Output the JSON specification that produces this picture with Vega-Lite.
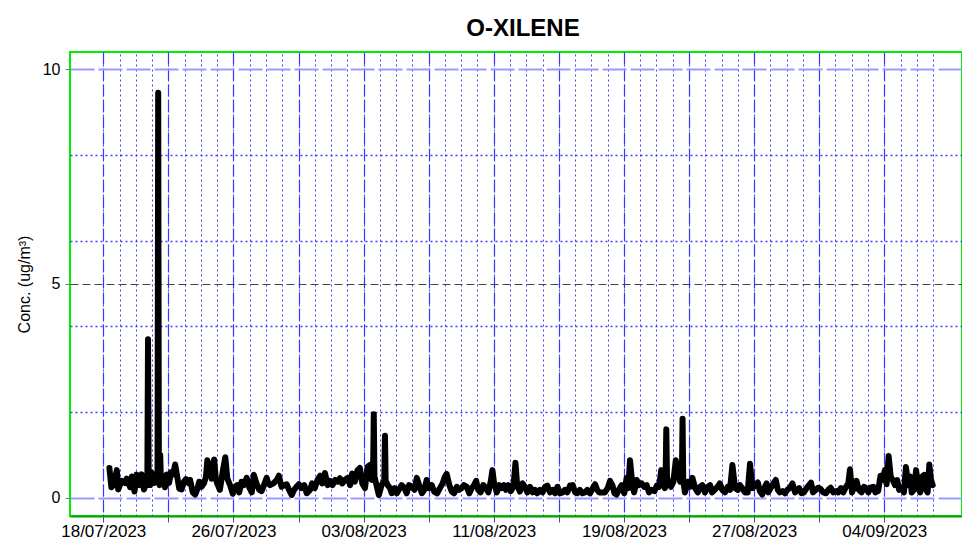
{
"$schema": "https://vega.github.io/schema/vega-lite/v6.json",
"width": 892, "height": 464,
"autosize": {"type": "none"},
"padding": {"left": 70, "top": 52, "right": 0, "bottom": 25},
"background": "white",
"title": {"text": "O-XILENE", "font": "Liberation Sans", "fontSize": 24, "fontWeight": "bold", "color": "black", "anchor": "middle", "frame": "group", "baseline": "alphabetic", "offset": 16, "dx": 7, "dy": 24},
"config": {"view": {"stroke": "#00ee00", "strokeWidth": 2}, "font": "Liberation Sans", "axis": {"minExtent": 0}},
"data": {"values": [
{"t":"2023-07-18T09:00","v":0.7},{"t":"2023-07-18T12:00","v":0.25},{"t":"2023-07-18T15:00","v":0.3},{"t":"2023-07-18T20:00","v":0.65},{"t":"2023-07-18T22:00","v":0.2},
{"t":"2023-07-19T03:00","v":0.4},{"t":"2023-07-19T08:00","v":0.35},{"t":"2023-07-19T10:30","v":0.45},{"t":"2023-07-19T15:30","v":0.25},{"t":"2023-07-19T18:00","v":0.5},{"t":"2023-07-19T22:00","v":0.15},
{"t":"2023-07-20T01:00","v":0.55},{"t":"2023-07-20T05:00","v":0.3},{"t":"2023-07-20T08:30","v":0.55},{"t":"2023-07-20T12:00","v":0.2},{"t":"2023-07-20T16:00","v":0.38},{"t":"2023-07-20T17:00","v":0.4},{"t":"2023-07-20T18:00","v":3.7},{"t":"2023-07-20T19:00","v":0.3},{"t":"2023-07-20T21:00","v":0.3},{"t":"2023-07-20T23:00","v":0.6},
{"t":"2023-07-21T03:00","v":0.35},{"t":"2023-07-21T06:00","v":0.5},{"t":"2023-07-21T08:00","v":0.5},{"t":"2023-07-21T09:00","v":9.45},{"t":"2023-07-21T10:00","v":0.4},{"t":"2023-07-21T11:00","v":0.3},{"t":"2023-07-21T12:00","v":1.0},{"t":"2023-07-21T13:00","v":0.4},{"t":"2023-07-21T16:30","v":0.5},{"t":"2023-07-21T19:00","v":0.25},{"t":"2023-07-21T21:30","v":0.55},
{"t":"2023-07-22T01:00","v":0.35},{"t":"2023-07-22T04:00","v":0.6},{"t":"2023-07-22T07:00","v":0.55},{"t":"2023-07-22T10:00","v":0.78},{"t":"2023-07-22T13:00","v":0.5},{"t":"2023-07-22T16:00","v":0.22},{"t":"2023-07-22T19:30","v":0.2},{"t":"2023-07-22T23:00","v":0.38},
{"t":"2023-07-23T02:00","v":0.44},{"t":"2023-07-23T05:30","v":0.35},{"t":"2023-07-23T08:00","v":0.42},{"t":"2023-07-23T12:00","v":0.13},{"t":"2023-07-23T15:30","v":0.08},{"t":"2023-07-23T19:00","v":0.22},{"t":"2023-07-23T21:30","v":0.38},
{"t":"2023-07-24T01:00","v":0.26},{"t":"2023-07-24T04:30","v":0.34},{"t":"2023-07-24T07:30","v":0.5},{"t":"2023-07-24T09:30","v":0.88},{"t":"2023-07-24T12:00","v":0.55},{"t":"2023-07-24T14:00","v":0.8},{"t":"2023-07-24T16:00","v":0.45},{"t":"2023-07-24T19:30","v":0.9},{"t":"2023-07-24T22:00","v":0.45},
{"t":"2023-07-25T00:00","v":0.34},{"t":"2023-07-25T04:00","v":0.19},{"t":"2023-07-25T08:00","v":0.6},{"t":"2023-07-25T12:00","v":0.95},{"t":"2023-07-25T15:00","v":0.45},{"t":"2023-07-25T19:00","v":0.3},{"t":"2023-07-25T23:00","v":0.1},
{"t":"2023-07-26T02:30","v":0.26},{"t":"2023-07-26T05:30","v":0.3},{"t":"2023-07-26T08:30","v":0.13},{"t":"2023-07-26T12:00","v":0.38},{"t":"2023-07-26T15:30","v":0.3},{"t":"2023-07-26T19:30","v":0.47},{"t":"2023-07-26T23:30","v":0.24},
{"t":"2023-07-27T03:00","v":0.13},{"t":"2023-07-27T06:00","v":0.54},{"t":"2023-07-27T10:00","v":0.34},{"t":"2023-07-27T14:00","v":0.19},{"t":"2023-07-27T17:30","v":0.16},{"t":"2023-07-27T21:00","v":0.3},
{"t":"2023-07-28T01:00","v":0.47},{"t":"2023-07-28T03:30","v":0.34},{"t":"2023-07-28T06:00","v":0.3},{"t":"2023-07-28T11:00","v":0.34},{"t":"2023-07-28T16:00","v":0.42},{"t":"2023-07-28T19:00","v":0.52},{"t":"2023-07-28T23:00","v":0.26},
{"t":"2023-07-29T03:00","v":0.3},{"t":"2023-07-29T06:30","v":0.32},{"t":"2023-07-29T10:00","v":0.19},{"t":"2023-07-29T14:00","v":0.07},{"t":"2023-07-29T17:30","v":0.19},{"t":"2023-07-29T21:00","v":0.26},
{"t":"2023-07-30T00:30","v":0.32},{"t":"2023-07-30T04:30","v":0.23},{"t":"2023-07-30T08:30","v":0.3},{"t":"2023-07-30T12:00","v":0.11},{"t":"2023-07-30T17:00","v":0.19},{"t":"2023-07-30T20:00","v":0.34},
{"t":"2023-07-31T00:00","v":0.23},{"t":"2023-07-31T04:00","v":0.42},{"t":"2023-07-31T08:00","v":0.52},{"t":"2023-07-31T11:00","v":0.34},{"t":"2023-07-31T15:00","v":0.58},{"t":"2023-07-31T19:00","v":0.3},{"t":"2023-07-31T22:30","v":0.4},
{"t":"2023-08-01T02:00","v":0.3},{"t":"2023-08-01T06:00","v":0.42},{"t":"2023-08-01T10:00","v":0.38},{"t":"2023-08-01T13:00","v":0.46},{"t":"2023-08-01T16:30","v":0.34},{"t":"2023-08-01T20:30","v":0.42},
{"t":"2023-08-02T00:30","v":0.47},{"t":"2023-08-02T04:00","v":0.3},{"t":"2023-08-02T07:00","v":0.57},{"t":"2023-08-02T11:00","v":0.38},{"t":"2023-08-02T15:00","v":0.65},{"t":"2023-08-02T18:30","v":0.7},{"t":"2023-08-02T22:00","v":0.34},
{"t":"2023-08-03T02:00","v":0.23},{"t":"2023-08-03T06:00","v":0.73},{"t":"2023-08-03T09:30","v":0.77},{"t":"2023-08-03T12:00","v":0.42},{"t":"2023-08-03T14:00","v":0.6},{"t":"2023-08-03T15:00","v":1.95},{"t":"2023-08-03T16:00","v":0.5},{"t":"2023-08-03T19:00","v":0.3},{"t":"2023-08-03T22:30","v":0.07},
{"t":"2023-08-04T02:30","v":0.3},{"t":"2023-08-04T06:30","v":0.4},{"t":"2023-08-04T07:30","v":1.45},{"t":"2023-08-04T08:30","v":0.4},{"t":"2023-08-04T11:30","v":0.3},{"t":"2023-08-04T15:00","v":0.23},{"t":"2023-08-04T17:30","v":0.11},{"t":"2023-08-04T21:30","v":0.23},
{"t":"2023-08-05T01:00","v":0.11},{"t":"2023-08-05T04:00","v":0.19},{"t":"2023-08-05T08:00","v":0.3},{"t":"2023-08-05T12:00","v":0.24},{"t":"2023-08-05T15:30","v":0.11},{"t":"2023-08-05T19:00","v":0.3},{"t":"2023-08-05T23:00","v":0.26},
{"t":"2023-08-06T03:00","v":0.19},{"t":"2023-08-06T06:30","v":0.47},{"t":"2023-08-06T10:00","v":0.3},{"t":"2023-08-06T14:00","v":0.11},{"t":"2023-08-06T17:30","v":0.19},{"t":"2023-08-06T21:00","v":0.42},
{"t":"2023-08-07T00:30","v":0.23},{"t":"2023-08-07T04:30","v":0.3},{"t":"2023-08-07T08:00","v":0.15},{"t":"2023-08-07T12:30","v":0.11},{"t":"2023-08-07T16:30","v":0.23},{"t":"2023-08-07T20:30","v":0.34},
{"t":"2023-08-08T00:00","v":0.5},{"t":"2023-08-08T02:30","v":0.56},{"t":"2023-08-08T06:30","v":0.3},{"t":"2023-08-08T10:00","v":0.15},{"t":"2023-08-08T13:30","v":0.11},{"t":"2023-08-08T17:30","v":0.26},{"t":"2023-08-08T21:00","v":0.19},
{"t":"2023-08-09T00:30","v":0.23},{"t":"2023-08-09T04:00","v":0.3},{"t":"2023-08-09T08:00","v":0.26},{"t":"2023-08-09T12:00","v":0.11},{"t":"2023-08-09T15:30","v":0.23},{"t":"2023-08-09T19:00","v":0.3},{"t":"2023-08-09T22:00","v":0.4},
{"t":"2023-08-10T01:00","v":0.19},{"t":"2023-08-10T04:30","v":0.13},{"t":"2023-08-10T08:30","v":0.3},{"t":"2023-08-10T12:30","v":0.23},{"t":"2023-08-10T16:00","v":0.13},{"t":"2023-08-10T19:30","v":0.38},{"t":"2023-08-10T22:00","v":0.65},
{"t":"2023-08-11T00:30","v":0.34},{"t":"2023-08-11T04:30","v":0.13},{"t":"2023-08-11T08:00","v":0.3},{"t":"2023-08-11T11:30","v":0.23},{"t":"2023-08-11T15:00","v":0.3},{"t":"2023-08-11T18:00","v":0.19},{"t":"2023-08-11T21:30","v":0.3},
{"t":"2023-08-12T01:00","v":0.16},{"t":"2023-08-12T05:00","v":0.26},{"t":"2023-08-12T08:00","v":0.82},{"t":"2023-08-12T10:30","v":0.3},{"t":"2023-08-12T14:30","v":0.15},{"t":"2023-08-12T18:30","v":0.34},{"t":"2023-08-12T22:00","v":0.26},
{"t":"2023-08-13T01:30","v":0.13},{"t":"2023-08-13T05:30","v":0.26},{"t":"2023-08-13T09:30","v":0.13},{"t":"2023-08-13T13:00","v":0.19},{"t":"2023-08-13T16:00","v":0.11},{"t":"2023-08-13T20:00","v":0.19},
{"t":"2023-08-14T00:00","v":0.13},{"t":"2023-08-14T03:30","v":0.26},{"t":"2023-08-14T07:00","v":0.29},{"t":"2023-08-14T11:00","v":0.13},{"t":"2023-08-14T15:00","v":0.19},{"t":"2023-08-14T18:30","v":0.11},{"t":"2023-08-14T22:00","v":0.26},
{"t":"2023-08-15T01:30","v":0.11},{"t":"2023-08-15T05:30","v":0.13},{"t":"2023-08-15T09:00","v":0.19},{"t":"2023-08-15T12:30","v":0.13},{"t":"2023-08-15T16:30","v":0.29},{"t":"2023-08-15T20:30","v":0.3},
{"t":"2023-08-16T00:00","v":0.13},{"t":"2023-08-16T03:00","v":0.11},{"t":"2023-08-16T07:00","v":0.19},{"t":"2023-08-16T11:00","v":0.11},{"t":"2023-08-16T14:30","v":0.13},{"t":"2023-08-16T18:00","v":0.19},{"t":"2023-08-16T22:00","v":0.11},
{"t":"2023-08-17T02:00","v":0.23},{"t":"2023-08-17T05:30","v":0.32},{"t":"2023-08-17T08:30","v":0.19},{"t":"2023-08-17T11:30","v":0.13},{"t":"2023-08-17T16:00","v":0.13},{"t":"2023-08-17T20:00","v":0.13},
{"t":"2023-08-18T00:00","v":0.23},{"t":"2023-08-18T03:30","v":0.4},{"t":"2023-08-18T07:00","v":0.3},{"t":"2023-08-18T10:00","v":0.11},{"t":"2023-08-18T13:00","v":0.08},{"t":"2023-08-18T16:30","v":0.19},{"t":"2023-08-18T20:30","v":0.3},
{"t":"2023-08-19T00:30","v":0.11},{"t":"2023-08-19T04:00","v":0.47},{"t":"2023-08-19T06:30","v":0.23},{"t":"2023-08-19T09:00","v":0.88},{"t":"2023-08-19T12:30","v":0.3},{"t":"2023-08-19T15:00","v":0.13},{"t":"2023-08-19T19:00","v":0.42},{"t":"2023-08-19T22:00","v":0.3},
{"t":"2023-08-20T02:00","v":0.34},{"t":"2023-08-20T06:00","v":0.26},{"t":"2023-08-20T09:30","v":0.3},{"t":"2023-08-20T13:00","v":0.13},{"t":"2023-08-20T17:00","v":0.19},{"t":"2023-08-20T21:00","v":0.16},
{"t":"2023-08-21T00:30","v":0.29},{"t":"2023-08-21T04:00","v":0.26},{"t":"2023-08-21T07:00","v":0.65},{"t":"2023-08-21T10:00","v":0.6},{"t":"2023-08-21T12:30","v":0.23},{"t":"2023-08-21T13:30","v":0.5},{"t":"2023-08-21T14:30","v":1.6},{"t":"2023-08-21T15:30","v":0.5},{"t":"2023-08-21T17:30","v":0.34},{"t":"2023-08-21T21:30","v":0.26},
{"t":"2023-08-22T01:00","v":0.38},{"t":"2023-08-22T04:30","v":0.88},{"t":"2023-08-22T08:00","v":0.54},{"t":"2023-08-22T11:00","v":0.38},{"t":"2023-08-22T13:30","v":0.5},{"t":"2023-08-22T14:30","v":1.85},{"t":"2023-08-22T15:30","v":0.4},{"t":"2023-08-22T18:00","v":0.13},{"t":"2023-08-22T22:00","v":0.38},
{"t":"2023-08-23T01:30","v":0.26},{"t":"2023-08-23T05:00","v":0.47},{"t":"2023-08-23T09:00","v":0.23},{"t":"2023-08-23T13:00","v":0.13},{"t":"2023-08-23T16:00","v":0.26},{"t":"2023-08-23T19:30","v":0.3},{"t":"2023-08-23T23:30","v":0.13},
{"t":"2023-08-24T03:30","v":0.26},{"t":"2023-08-24T07:00","v":0.3},{"t":"2023-08-24T10:00","v":0.13},{"t":"2023-08-24T14:00","v":0.19},{"t":"2023-08-24T18:00","v":0.26},{"t":"2023-08-24T21:30","v":0.34},
{"t":"2023-08-25T01:00","v":0.19},{"t":"2023-08-25T05:00","v":0.13},{"t":"2023-08-25T09:00","v":0.26},{"t":"2023-08-25T12:30","v":0.19},{"t":"2023-08-25T16:00","v":0.77},{"t":"2023-08-25T20:00","v":0.23},
{"t":"2023-08-26T00:00","v":0.19},{"t":"2023-08-26T03:00","v":0.3},{"t":"2023-08-26T06:30","v":0.23},{"t":"2023-08-26T10:30","v":0.13},{"t":"2023-08-26T14:30","v":0.13},{"t":"2023-08-26T18:00","v":0.8},{"t":"2023-08-26T21:30","v":0.23},
{"t":"2023-08-27T01:30","v":0.3},{"t":"2023-08-27T05:30","v":0.36},{"t":"2023-08-27T08:30","v":0.16},{"t":"2023-08-27T12:00","v":0.08},{"t":"2023-08-27T16:00","v":0.26},{"t":"2023-08-27T18:30","v":0.34},{"t":"2023-08-27T21:00","v":0.13},
{"t":"2023-08-28T00:30","v":0.23},{"t":"2023-08-28T04:30","v":0.34},{"t":"2023-08-28T08:00","v":0.42},{"t":"2023-08-28T11:00","v":0.19},{"t":"2023-08-28T14:00","v":0.13},{"t":"2023-08-28T18:00","v":0.16},{"t":"2023-08-28T21:30","v":0.11},
{"t":"2023-08-29T01:00","v":0.19},{"t":"2023-08-29T05:00","v":0.24},{"t":"2023-08-29T08:30","v":0.34},{"t":"2023-08-29T12:30","v":0.13},{"t":"2023-08-29T15:30","v":0.19},{"t":"2023-08-29T18:30","v":0.23},{"t":"2023-08-29T22:00","v":0.11},
{"t":"2023-08-30T01:30","v":0.13},{"t":"2023-08-30T05:30","v":0.23},{"t":"2023-08-30T09:00","v":0.3},{"t":"2023-08-30T12:00","v":0.36},{"t":"2023-08-30T15:00","v":0.13},{"t":"2023-08-30T19:00","v":0.19},{"t":"2023-08-30T22:30","v":0.24},
{"t":"2023-08-31T02:00","v":0.21},{"t":"2023-08-31T06:00","v":0.13},{"t":"2023-08-31T10:00","v":0.11},{"t":"2023-08-31T13:30","v":0.19},{"t":"2023-08-31T17:00","v":0.24},{"t":"2023-08-31T21:00","v":0.13},
{"t":"2023-09-01T01:00","v":0.16},{"t":"2023-09-01T04:00","v":0.13},{"t":"2023-09-01T08:00","v":0.23},{"t":"2023-09-01T11:30","v":0.13},{"t":"2023-09-01T15:30","v":0.26},{"t":"2023-09-01T19:00","v":0.34},{"t":"2023-09-01T21:30","v":0.67},
{"t":"2023-09-02T00:30","v":0.13},{"t":"2023-09-02T04:00","v":0.26},{"t":"2023-09-02T07:00","v":0.4},{"t":"2023-09-02T10:30","v":0.19},{"t":"2023-09-02T14:30","v":0.13},{"t":"2023-09-02T18:00","v":0.26},{"t":"2023-09-02T21:00","v":0.23},
{"t":"2023-09-03T00:30","v":0.13},{"t":"2023-09-03T04:00","v":0.24},{"t":"2023-09-03T08:00","v":0.26},{"t":"2023-09-03T11:00","v":0.13},{"t":"2023-09-03T15:00","v":0.16},{"t":"2023-09-03T18:30","v":0.52},{"t":"2023-09-03T21:30","v":0.42},
{"t":"2023-09-04T01:00","v":0.65},{"t":"2023-09-04T03:30","v":0.32},{"t":"2023-09-04T06:30","v":0.98},{"t":"2023-09-04T09:30","v":0.5},{"t":"2023-09-04T12:30","v":0.42},{"t":"2023-09-04T16:00","v":0.3},{"t":"2023-09-04T19:00","v":0.42},{"t":"2023-09-04T22:00","v":0.19},
{"t":"2023-09-05T02:00","v":0.24},{"t":"2023-09-05T05:00","v":0.13},{"t":"2023-09-05T08:00","v":0.72},{"t":"2023-09-05T11:30","v":0.3},{"t":"2023-09-05T14:00","v":0.5},{"t":"2023-09-05T16:30","v":0.13},{"t":"2023-09-05T20:00","v":0.19},{"t":"2023-09-05T23:00","v":0.65},
{"t":"2023-09-06T02:00","v":0.26},{"t":"2023-09-06T05:00","v":0.13},{"t":"2023-09-06T08:00","v":0.5},{"t":"2023-09-06T11:00","v":0.54},{"t":"2023-09-06T13:30","v":0.19},{"t":"2023-09-06T16:00","v":0.13},{"t":"2023-09-06T18:30","v":0.78},{"t":"2023-09-06T21:00","v":0.42},{"t":"2023-09-06T23:30","v":0.3}
]},
"layer": [
{
"mark": {"type": "line", "opacity": 0},
"encoding": {
"x": {"field": "t", "type": "temporal",
"scale": {"domain": [{"year": 2023, "month": 7, "date": 15, "hours": 22, "minutes": 54}, {"year": 2023, "month": 9, "date": 8, "hours": 18, "minutes": 42}]},
"axis": {"orient": "top", "title": null, "labels": false, "ticks": false, "domain": false, "grid": true, "minExtent": 0, "maxExtent": 0,
"tickCount": {"interval": "day", "step": 1},
"gridColor": "#2a2aff", "gridWidth": 1, "gridDash": [2, 3],
"gridOpacity": {"condition": {"test": "datum.value >= datetime(2023,6,17,12,0) && datum.value <= datetime(2023,8,7,12,0)", "value": 0.9}, "value": 0}}},
"y": {"field": "v", "type": "quantitative",
"scale": {"domain": [-0.42, 10.4], "nice": false, "zero": false},
"axis": {"orient": "right", "title": null, "labels": false, "ticks": false, "domain": false, "grid": true, "minExtent": 0, "maxExtent": 0,
"values": [2, 4, 6, 8],
"gridColor": "#2a2aff", "gridWidth": 1.3, "gridDash": [2, 3], "gridOpacity": 0.9}}
}
},
{
"mark": {"type": "line", "color": "black", "strokeWidth": 6, "strokeJoin": "round", "strokeCap": "round"},
"encoding": {
"x": {"field": "t", "type": "temporal",
"scale": {"domain": [{"year": 2023, "month": 7, "date": 15, "hours": 22, "minutes": 54}, {"year": 2023, "month": 9, "date": 8, "hours": 18, "minutes": 42}]},
"axis": {"orient": "bottom", "title": null, "grid": true,
"values": [
{"year": 2023, "month": 7, "date": 18}, {"year": 2023, "month": 7, "date": 22}, {"year": 2023, "month": 7, "date": 26}, {"year": 2023, "month": 7, "date": 30},
{"year": 2023, "month": 8, "date": 3}, {"year": 2023, "month": 8, "date": 7}, {"year": 2023, "month": 8, "date": 11}, {"year": 2023, "month": 8, "date": 15},
{"year": 2023, "month": 8, "date": 19}, {"year": 2023, "month": 8, "date": 23}, {"year": 2023, "month": 8, "date": 27}, {"year": 2023, "month": 8, "date": 31},
{"year": 2023, "month": 9, "date": 4}],
"labelExpr": "(round((datum.value - datetime(2023,6,18)) / 86400000) % 8 == 0) ? timeFormat(datum.value, '%d/%m/%Y') : ''",
"labelOverlap": false, "labelFlush": false,
"labelFont": "Liberation Sans", "labelFontSize": 17, "labelColor": "black", "labelPadding": 1,
"tickColor": "#555555", "tickSize": 6, "tickWidth": 1,
"domain": true, "domainColor": "#00a000", "domainWidth": 2,
"gridColor": "#3030ff", "gridWidth": 1.2, "gridDash": [12, 4], "gridOpacity": 0.95}},
"y": {"field": "v", "type": "quantitative",
"scale": {"domain": [-0.42, 10.4], "nice": false, "zero": false},
"axis": {"orient": "left", "title": "Conc. (ug/m³)", "titleFont": "Liberation Sans", "titleFontSize": 16, "titleFontWeight": "normal", "titleColor": "black", "titlePadding": 10,
"values": [0, 5, 10], "labelFont": "Liberation Sans", "labelFontSize": 16, "labelColor": "black", "labelPadding": 5, "labelFlush": false,
"tickColor": "#777777", "tickSize": 5, "domain": false, "grid": true,
"gridColor": {"condition": {"test": "datum.value === 5", "value": "#444444"}, "value": "#9a9aff"},
"gridWidth": {"condition": {"test": "datum.value === 5", "value": 1}, "value": 2},
"gridDash": {"condition": {"test": "datum.value === 5", "value": [8, 4]}, "value": [24, 4]}}}
}
}
],
"resolve": {"axis": {"x": "independent", "y": "independent"}}
}
